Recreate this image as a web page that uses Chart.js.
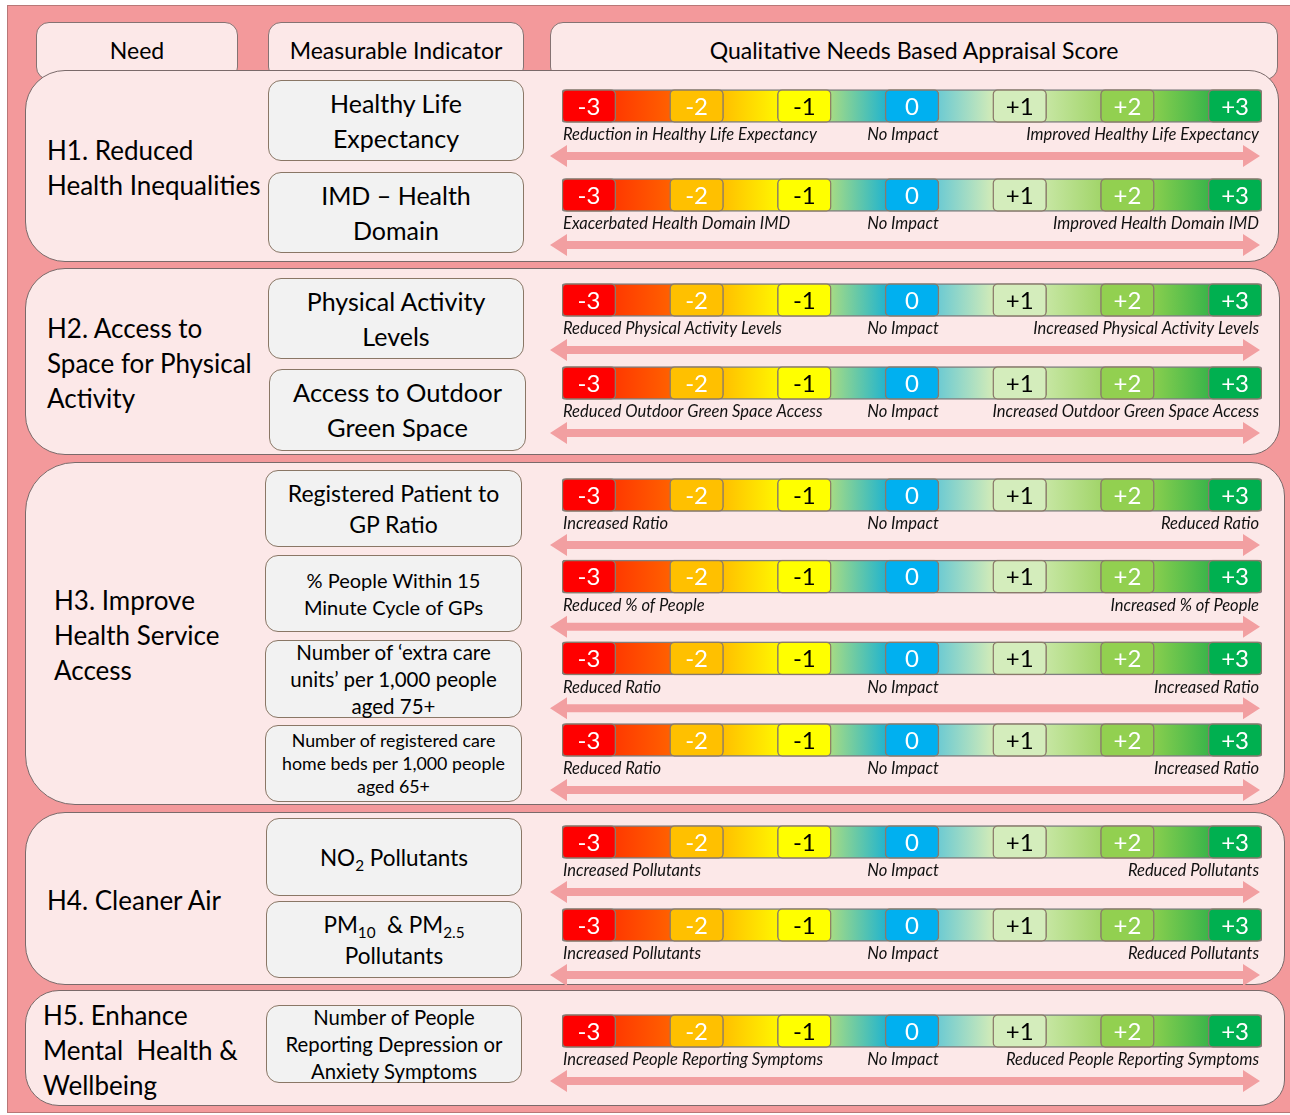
<!DOCTYPE html>
<html><head><meta charset="utf-8">
<script src="https://cdn.jsdelivr.net/npm/chart.js@4.4.1/dist/chart.umd.min.js"></script>
<style>
html,body{margin:0;padding:0;background:#fff;}
body{width:1290px;height:1115px;position:relative;overflow:hidden;font-family:Lato,"Open Sans",sans-serif;color:#000;}
.abs{position:absolute;box-sizing:border-box;}
#frame{left:7px;top:5px;width:1283px;height:1108px;background:#F3999B;border:1px solid #B87777;border-right:none;}
.hdr{background:#FCE8E8;border:1.5px solid #857272;border-radius:13px;text-align:center;font-size:23px;line-height:54px;white-space:nowrap;}
.panel{background:#FCE8E8;border:1.5px solid #7A6A6A;}
.ind{background:#F2F2F2;border:1.5px solid #8A7766;border-radius:13px;display:flex;align-items:center;justify-content:center;text-align:center;white-space:nowrap;}
.need{white-space:pre;}
.cv{left:540px;width:750px;}
sub{font-size:0.68em;vertical-align:-0.3em;line-height:0;}
</style></head><body>
<div id="frame" class="abs"></div>
<div id="stage"></div>
<script>
// ---------------- DATA ----------------
const headers = ['Need', 'Measurable Indicator', 'Qualitative Needs Based Appraisal Score'];
const needs = [
  'H1. Reduced\nHealth Inequalities',
  'H2. Access to\nSpace for Physical\nActivity',
  'H3. Improve\nHealth Service\nAccess',
  'H4. Cleaner Air',
  'H5. Enhance\nMental  Health &\nWellbeing'
];
const indicators = [
  'Healthy Life\nExpectancy',
  'IMD \u2013 Health\nDomain',
  'Physical Activity\nLevels',
  'Access to Outdoor\nGreen Space',
  'Registered Patient to\nGP Ratio',
  '% People Within 15\nMinute Cycle of GPs',
  'Number of \u2018extra care\nunits\u2019 per 1,000 people\naged 75+',
  'Number of registered care\nhome beds per 1,000 people\naged 65+',
  'NO<sub>2</sub> Pollutants',
  'PM<sub>10</sub>&nbsp; &amp; PM<sub>2.5</sub>\nPollutants',
  'Number of People\nReporting Depression or\nAnxiety Symptoms'
];
const needOfIndicator = [0, 0, 1, 1, 2, 2, 2, 2, 3, 3, 4];
const scores = [-3, -2, -1, 0, 1, 2, 3];
const scoreLabels = ['-3', '-2', '-1', '0', '+1', '+2', '+3'];
const negativeOutcomes = [
  'Reduction in Healthy Life Expectancy', 'Exacerbated Health Domain IMD',
  'Reduced Physical Activity Levels', 'Reduced Outdoor Green Space Access',
  'Increased Ratio', 'Reduced % of People', 'Reduced Ratio', 'Reduced Ratio',
  'Increased Pollutants', 'Increased Pollutants', 'Increased People Reporting Symptoms'
];
const neutralOutcomes = [
  'No Impact', 'No Impact', 'No Impact', 'No Impact', 'No Impact', '',
  'No Impact', 'No Impact', 'No Impact', 'No Impact', 'No Impact'
];
const positiveOutcomes = [
  'Improved Healthy Life Expectancy', 'Improved Health Domain IMD',
  'Increased Physical Activity Levels', 'Increased Outdoor Green Space Access',
  'Reduced Ratio', 'Increased % of People', 'Increased Ratio', 'Increased Ratio',
  'Reduced Pollutants', 'Reduced Pollutants', 'Reduced People Reporting Symptoms'
];

// ---------------- STYLE / LAYOUT ----------------
const style = {
  boxFill: ['#FF0000', '#FFC000', '#FFFF00', '#00B0F0', '#D4EDBC', '#92D050', '#00B050'],
  boxText: ['#fff', '#fff', '#000', '#fff', '#000', '#fff', '#fff'],
  gradStops: [
    [-3.25, '#FF0000'], [-2.75, '#FF3A00'], [-2.25, '#FF6000'], [-2.0, '#FFC000'],
    [-1.75, '#FFC000'], [-1.25, '#FFF500'], [-1.0, '#FFFF00'], [-0.75, '#A5DB85'],
    [-0.25, '#25B5CC'], [0.0, '#00B0F0'], [0.25, '#6ECBD2'], [0.75, '#D2EBB8'],
    [1.0, '#D4EDBC'], [1.25, '#C6E6A2'], [1.75, '#A2D56A'], [2.0, '#92D050'],
    [2.25, '#88CE4E'], [2.75, '#3CB54A'], [3.25, '#00B050']
  ],
  arrow: '#F29FA1'
};
const layout = {
  headerBoxes: [[36, 22, 238, 80], [268, 22, 524, 80], [550, 22, 1278, 80]],
  panels: [[25, 70, 1279, 262, 40, 30], [25, 268, 1280, 455, 40, 30], [25, 462, 1285, 805, 50, 34],
           [25, 812, 1285, 985, 40, 30], [25, 990, 1285, 1106, 34, 26]],
  needPos: [[47, 150], [47, 328], [54, 600], [47, 900], [43, 1015]],
  needFont: 26, needLH: 35,
  indBoxes: [[268, 80, 524, 161], [268, 172, 524, 253], [268, 278, 524, 359], [269, 369, 526, 451],
             [265, 470, 522, 547], [265, 555, 522, 632], [265, 640, 522, 718], [265, 725, 522, 802],
             [266, 818, 522, 896], [266, 901, 522, 978], [266, 1005, 522, 1083]],
  indFont: [25, 25, 25, 25.5, 23, 20, 20.5, 17.8, 22.5, 22.5, 20.3],
  indLH: [35, 35, 35, 35, 31, 27, 27, 23, 31, 31, 27],
  charts: [[56, 210, 5.5, 26.5], [255, 207, 3.5, 37.5], [450, 358, 4.2, 27.2], [796, 194, 4.5, 23.5], [984, 126, 0, 32]]
};

// ---------------- HTML SCAFFOLD ----------------
const stage = document.getElementById('stage');
function box(cls, l, t, r, b, extra) {
  const d = document.createElement('div');
  d.className = 'abs ' + cls;
  Object.assign(d.style, { left: l + 'px', top: t + 'px', width: (r - l) + 'px', height: (b - t) + 'px' }, extra || {});
  stage.appendChild(d);
  return d;
}
headers.forEach((h, i) => { const [l, t, r, b] = layout.headerBoxes[i]; box('hdr', l, t, r, b).textContent = h; });
layout.panels.forEach(([l, t, r, b, rl, rr]) => {
  box('panel', l, t, r, b, { borderRadius: `${rl}px ${rr}px ${rr}px ${rl}px` });
});
needs.forEach((n, i) => {
  const [x, y] = layout.needPos[i];
  const d = box('need', x, y - layout.needLH / 2, x + 230, y - layout.needLH / 2 + layout.needLH * 3,
    { fontSize: layout.needFont + 'px', lineHeight: layout.needLH + 'px' });
  d.textContent = n;
});
indicators.forEach((t, i) => {
  const [l, tp, r, b] = layout.indBoxes[i];
  const d = box('ind', l, tp, r, b, { fontSize: layout.indFont[i] + 'px', lineHeight: layout.indLH[i] + 'px' });
  const s = document.createElement('div');
  s.innerHTML = t.split('\n').join('<br>');
  d.appendChild(s);
});

// ---------------- CHARTS ----------------
const scorePlugin = {
  id: 'scoreMarks',
  afterDatasetsDraw(chart) {
    const { ctx, scales: { x, y } } = chart;
    const rows = chart.options.plugins.scoreMarks.rows;
    ctx.save();
    rows.forEach((ri, i) => {
      const cy = y.getPixelForValue(i);
      ctx.textBaseline = 'middle';
      ctx.textAlign = 'center';
      ctx.font = '24px Lato';
      scores.forEach((s, k) => {
        ctx.fillStyle = style.boxText[k];
        ctx.fillText(scoreLabels[k], x.getPixelForValue(s), cy + 1);
      });
      const lx = x.getPixelForValue(x.min), rx = x.getPixelForValue(x.max);
      ctx.font = 'italic 16.5px Lato';
      ctx.fillStyle = '#111';
      ctx.textAlign = 'left'; ctx.fillText(negativeOutcomes[ri], lx + 1, cy + 29);
      ctx.textAlign = 'center'; ctx.fillText(neutralOutcomes[ri], x.getPixelForValue(0) - 9, cy + 29);
      ctx.textAlign = 'right'; ctx.fillText(positiveOutcomes[ri], rx - 3, cy + 29);
      const ay = cy + 50, x0 = lx - 12, x1 = rx - 2, hl = 17, hh = 11, sh = 4;
      ctx.fillStyle = style.arrow;
      ctx.beginPath();
      ctx.moveTo(x0, ay); ctx.lineTo(x0 + hl, ay - hh); ctx.lineTo(x0 + hl, ay - sh);
      ctx.lineTo(x1 - hl, ay - sh); ctx.lineTo(x1 - hl, ay - hh); ctx.lineTo(x1, ay);
      ctx.lineTo(x1 - hl, ay + hh); ctx.lineTo(x1 - hl, ay + sh); ctx.lineTo(x0 + hl, ay + sh);
      ctx.lineTo(x0 + hl, ay + hh); ctx.closePath(); ctx.fill();
    });
    ctx.restore();
  }
};

function gradientFill(context) {
  const chart = context.chart;
  const a = chart.chartArea;
  if (!a) return null;
  const xs = chart.scales.x;
  const g = chart.ctx.createLinearGradient(a.left, 0, a.right, 0);
  style.gradStops.forEach(([v, c]) => {
    const f = (xs.getPixelForValue(v) - a.left) / (a.right - a.left);
    g.addColorStop(Math.min(1, Math.max(0, f)), c);
  });
  return g;
}

function makeChart(p) {
  const [top, h, pt, pb] = layout.charts[p];
  const wrap = box('cv', 540, top, 1290, top + h);
  const cv = document.createElement('canvas');
  wrap.appendChild(cv);
  const rows = needOfIndicator.map((n, i) => n === p ? i : -1).filter(i => i >= 0);
  const lo = Math.min(...scores) - 0.25, hi = Math.max(...scores) + 0.25;
  const datasets = [{
    data: rows.map(() => [lo, hi]),
    backgroundColor: gradientFill,
    borderColor: '#7F7F7F', borderWidth: 1.5, borderRadius: 3, borderSkipped: false,
    barThickness: 33, grouped: false, order: 2
  }].concat(scores.map((s, k) => ({
    data: rows.map(() => [s - 0.25, s + 0.25]),
    backgroundColor: style.boxFill[k],
    borderColor: '#8A7A6A', borderWidth: 1.5, borderRadius: 5, borderSkipped: false,
    barThickness: 33, grouped: false, order: 1
  })));
  new Chart(cv, {
    type: 'bar',
    data: { labels: rows.map(i => indicators[i]), datasets },
    options: {
      indexAxis: 'y', responsive: true, maintainAspectRatio: false, animation: false,
      layout: { padding: { left: 22, right: 28, top: pt, bottom: pb } },
      scales: {
        x: { type: 'linear', min: lo, max: hi, display: false },
        y: { type: 'category', display: false, offset: true }
      },
      plugins: { legend: { display: false }, tooltip: { enabled: false }, scoreMarks: { rows } }
    },
    plugins: [scorePlugin]
  });
}

Promise.all([document.fonts.load('24px Lato'), document.fonts.load('italic 16.5px Lato')])
  .catch(() => {}).then(() => { for (let p = 0; p < needs.length; p++) makeChart(p); });
</script>
</body></html>
